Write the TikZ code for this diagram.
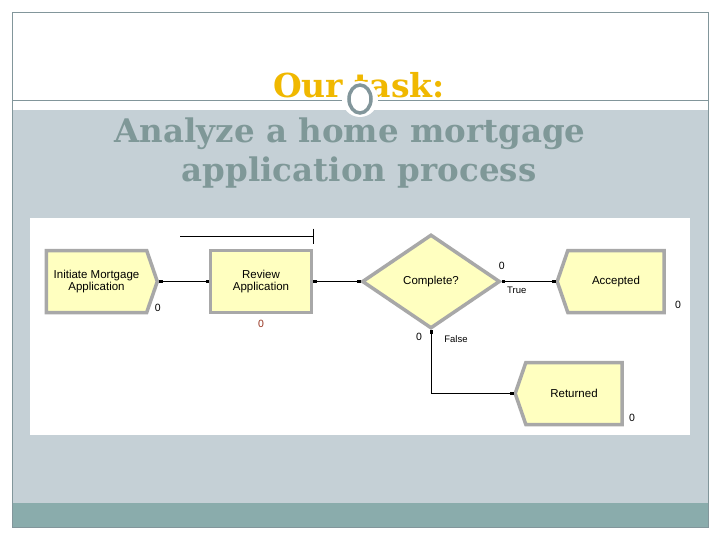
\documentclass[tikz,border=0pt]{standalone}
\usepackage{fontspec}
\setmainfont{Liberation Sans}
\newfontfamily\headfont{DejaVu Serif}
\usetikzlibrary{shapes.geometric,shapes.symbols,arrows.meta}

\definecolor{framegray}{RGB}{130,150,155}
\definecolor{bandgray}{RGB}{197,208,214}
\definecolor{footteal}{RGB}{138,172,172}
\definecolor{titlegold}{RGB}{240,184,0}
\definecolor{titlegray}{RGB}{127,152,152}
\definecolor{boxfill}{RGB}{255,255,192}
\definecolor{bevel}{RGB}{168,168,168}
\definecolor{countred}{RGB}{150,50,30}

\tikzset{
  module/.style={draw=bevel, line width=3.5pt, fill=boxfill, align=center,
    font=\fontsize{11.5}{12}\selectfont, inner sep=0pt},
  createbox/.style={module, shape=signal, signal to=east, signal pointer angle=142,
    minimum width=111pt, minimum height=62pt},
  processbox/.style={module, rectangle, minimum width=101pt, minimum height=62pt},
  decidebox/.style={module, diamond, minimum width=138pt, minimum height=94pt},
  disposebox/.style={module, shape=signal, signal to=west, signal pointer angle=142,
    minimum width=107pt, minimum height=62pt},
  link/.style={line width=0.6pt, {Square[length=3pt,width=3pt]}-{Square[length=3pt,width=3pt]}},
  count/.style={font=\fontsize{10.5}{11}\selectfont, inner sep=0pt},
  branch/.style={font=\fontsize{9.5}{10}\selectfont, inner sep=0pt},
  headline/.style={anchor=base, text=titlegray, font=\headfont\bfseries\fontsize{32.5}{36}\selectfont, inner sep=0pt}
}

\begin{document}
\begin{tikzpicture}[x=1pt, y=-1pt]

	\useasboundingbox (0,0) rectangle (720,540);
	% slide background
	\fill[white] (0,0) rectangle (720,540);
	\fill[bandgray] (12,110) rectangle (708,503);
	\fill[footteal] (12,503) rectangle (708,527);
	\draw[framegray, line width=0.8pt] (12,12) rectangle (708,527);
	\draw[framegray, line width=0.8pt] (12,100) -- (708,100);

	% title
	\node (task) [anchor=base, text=titlegold, font=\headfont\bfseries\fontsize{33}{36}\selectfont, inner sep=0pt] at (359,98) {Our task:};
	\fill[white] (360,99) circle (18pt);
	\draw[framegray, line width=3.5pt] (360,99) ellipse (11pt and 14pt);
	\node (line1) [headline] at (350,143) {Analyze a home mortgage};
	\node (line2) [headline] at (359,182) {application process};

	% model panel
	\fill[white] (30,218) rectangle (690,435);

	\node (init) [createbox] at (96.5,281.5) {Initiate Mortgage\\Application};
	\node (review) [processbox] at (261,281.5) {Review\\Application};
	\node (complete) [decidebox] at (431,281.5) {Complete?};
	\node (accepted) [disposebox] at (616,281.5) {Accepted};
	\node (returned) [disposebox] at (574,393.5) {Returned};

	\draw[link] (init.east) -- (review.west);
	\draw[link] (review.east) -- (complete.west);
	\draw[link] (complete.east) -- (accepted.west);
	\draw[link] (complete.south) |- (returned.west);

	% queue
	\coordinate (qend) at ([yshift=12pt]review.north east);
	\draw[line width=0.6pt] (qend) -- ++(-133,0);
	\draw[line width=0.6pt] ([yshift=8pt]qend) -- ([yshift=-7pt]qend);

	% counters
	\node (initcnt) [count] at ([xshift=10pt,yshift=6pt]init.south east) {0};
	\node (reviewcnt) [count, text=countred] at ([yshift=-10pt]review.south) {0};
	\node (truecnt) [count] at ([yshift=16pt]complete.east) {0};
	\node (falsecnt) [count] at ([xshift=-12pt,yshift=-7pt]complete.south) {0};
	\node (acccnt) [count] at ([xshift=12pt,yshift=6pt]accepted.south east) {0};
	\node (retcnt) [count] at ([xshift=8pt,yshift=5pt]returned.south east) {0};
	\node (truelbl) [branch] at ([xshift=15pt,yshift=-9pt]complete.east) {True};
	\node (falselbl) [branch] at ([xshift=25pt,yshift=-9pt]complete.south) {False};

\end{tikzpicture}
\end{document}
